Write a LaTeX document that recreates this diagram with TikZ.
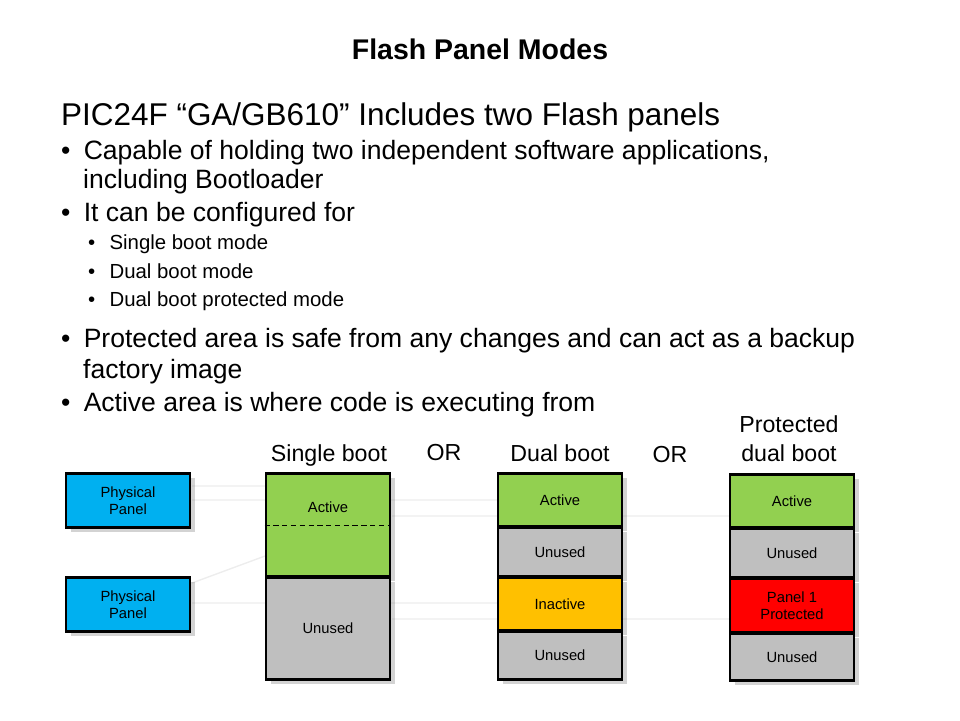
\documentclass[tikz,border=0pt]{standalone}
\usepackage{fontspec}
\setmainfont{Liberation Sans}
\usetikzlibrary{positioning, shadows}

\definecolor{panelblue}{RGB}{0,176,240}
\definecolor{activegreen}{RGB}{146,208,80}
\definecolor{unusedgray}{RGB}{191,191,191}
\definecolor{inactiveyellow}{RGB}{255,192,0}
\definecolor{protectedred}{RGB}{255,0,0}

\tikzset{
    seg/.style = {draw, line width = 1.6pt, minimum width = 2.48cm, inner sep = 0pt,
                  align = center, font = \fontsize{8.4}{9.6}\selectfont, drop shadow = {opacity = 0.35}},
    bullet/.style = {anchor = base west, font = \fontsize{15.1}{18}\selectfont},
    subbullet/.style = {anchor = base west, font = \fontsize{11.6}{14}\selectfont},
    head/.style = {align = center, font = \fontsize{13.2}{16.5}\selectfont},
    faint/.style = {draw = black!7, line width = 0.8pt}
}
% segment: name, fill, x centre, top, bottom (px), text
\newcommand{\flashseg}[6]{\pgfmathsetmacro{\segh}{(#5-#4)*0.02-0.02}
    \node[seg, fill = #2, minimum height = \segh cm] (#1) at (#3, {(#4+#5)/2}){#6};}

\begin{document}
\begin{tikzpicture}[x = 0.02cm, y = -0.02cm]
    \useasboundingbox (0, 0) rectangle (960, 720);

    \node[font = \bfseries\fontsize{16.2}{19}\selectfont] (title) at (480, 49){Flash Panel Modes};

    \node[anchor = base west, font = \fontsize{17.9}{21}\selectfont] (intro) at (55, 125){PIC24F “GA/GB610” Includes two Flash panels};
    \foreach \y/\txt in {159/{Capable of holding two independent software applications,}, 221/{It can be configured for},
                         347/{Protected area is safe from any changes and can act as a backup}, 411/{Active area is where code is executing from}}
        \node[bullet] at (55, \y){•\hspace{0.5em}\txt};
    \node[bullet] at (77, 188){including Bootloader};
    \node[bullet] at (77, 378){factory image};
    \foreach \y/\txt in {249/{Single boot mode}, 278/{Dual boot mode}, 306/{Dual boot protected mode}}
        \node[subbullet] at (82, \y){•\hspace{0.7em}\txt};

    % faint background links
    \draw[faint] (192, 486) -- (265, 486) (192, 500) -- (497, 500) (392, 516) -- (729, 516)
                 (192, 583) -- (265, 556) (192, 603) -- (497, 603) (392, 619) -- (729, 619);

    % physical panels
    \flashseg{pp1}{panelblue}{128}{473}{528}{Physical\\Panel}
    \flashseg{pp2}{panelblue}{128}{577}{632}{Physical\\Panel}

    % single boot
    \flashseg{sbA}{activegreen}{328}{473}{577}{}
    \flashseg{sbU}{unusedgray}{328}{577}{680}{Unused}
    \draw[densely dashed, thin] (sbA.west |- 0, 525) -- (sbA.east |- 0, 525);
    \node[font = \fontsize{8.4}{9.6}\selectfont] at (328, 507){Active};

    % dual boot
    \flashseg{dbA}{activegreen}{560}{473}{527}{Active}
    \flashseg{dbU1}{unusedgray}{560}{527}{577}{Unused}
    \flashseg{dbI}{inactiveyellow}{560}{577}{631}{Inactive}
    \flashseg{dbU2}{unusedgray}{560}{631}{680}{Unused}

    % protected dual boot
    \flashseg{pbA}{activegreen}{792}{474}{528}{Active}
    \flashseg{pbU1}{unusedgray}{792}{528}{578}{Unused}
    \flashseg{pbP}{protectedred}{792}{578}{633}{Panel 1\\Protected}
    \flashseg{pbU2}{unusedgray}{792}{633}{681}{Unused}

    % column heads
    \node[head, anchor = base] (sbH) at (329, 461){Single boot};
    \node[head, anchor = base] (dbH) at (560, 461){Dual boot};
    \node[head, anchor = base] (pbH) at (789, 461){Protected\\dual boot};
    \node[head, anchor = base] (or1) at (444, 460){OR};
    \node[head, anchor = base] (or2) at (670, 462){OR};
\end{tikzpicture}
\end{document}
